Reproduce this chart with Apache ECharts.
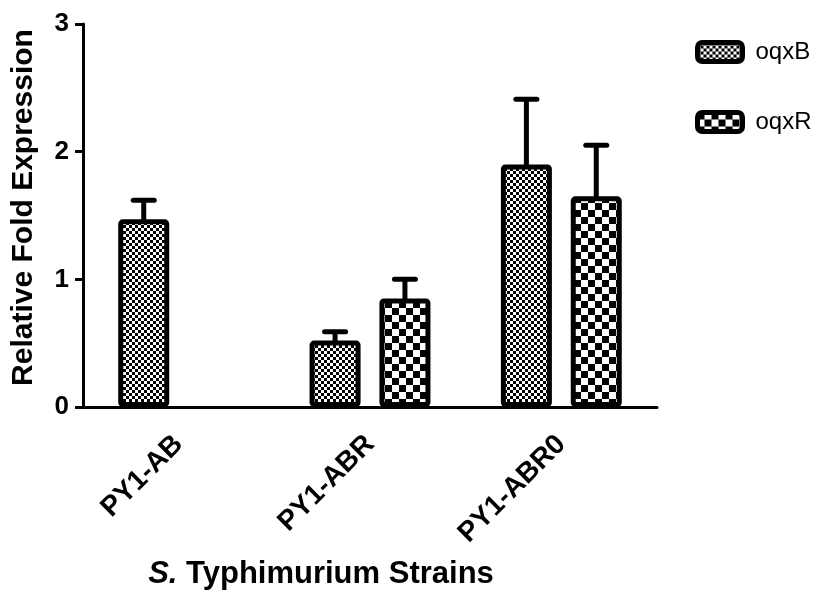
<!DOCTYPE html>
<html>
<head>
<meta charset="utf-8">
<script src="https://cdn.jsdelivr.net/npm/echarts@6/dist/echarts.min.js"></script>
<style>
  html, body { margin: 0; padding: 0; background: #fff; }
  #main { width: 828px; height: 590px; }
</style>
</head>
<body>
<div id="main"></div>
<script>
// data
var categories = ['PY1-AB', 'PY1-ABR', 'PY1-ABR0'];
var oqxB = [1.47, 0.52, 1.90];
var oqxBErr = [0.15, 0.07, 0.51];
var oqxR = [null, 0.85, 1.65];
var oqxRErr = [null, 0.15, 0.40];
var yTicks = [0, 1, 2, 3];

var FONT = "'Liberation Sans', Arial, sans-serif";
var BAR_W = 51;      // border is drawn inside this width
var BAR_GAP = 0.37;  // relative to bar width
var BORDER = 5;

// checkerboard fill like the Prism patterns
function checker(cell) {
    var c = document.createElement('canvas');
    c.width = c.height = cell * 2;
    var g = c.getContext('2d');
    g.fillStyle = '#fff';
    g.fillRect(0, 0, cell * 2, cell * 2);
    g.fillStyle = '#000';
    g.fillRect(0, 0, cell, cell);
    g.fillRect(cell, cell, cell, cell);
    return c;
}

function errData(vals, errs) {
    return vals.map(function (v, i) {
        if (v == null) return [i, '-', '-'];
        return [i, v, v + errs[i]];
    });
}

// upper-only error bar, shifted to sit over its bar
function errRender(side) {
    return function (params, api) {
        var v = api.value(1);
        if (isNaN(v)) return;
        var off = side * (BAR_W + BAR_W * BAR_GAP) / 2;
        var base = api.coord([api.value(0), v]);
        var top = api.coord([api.value(0), api.value(2)]);
        var x = base[0] + off;
        return {
            type: 'group',
            children: [
                { type: 'line', shape: { x1: x, y1: base[1] + 1, x2: x, y2: top[1] }, style: { stroke: '#000', lineWidth: 5 } },
                { type: 'line', shape: { x1: x - 10.5, y1: top[1], x2: x + 10.5, y2: top[1] }, style: { stroke: '#000', lineWidth: 5, lineCap: 'round' } }
            ]
        };
    };
}

var chart = echarts.init(document.getElementById('main'));
chart.setOption({
    animation: false,
    backgroundColor: '#fff',
    textStyle: { fontFamily: FONT, color: '#000' },
    grid: { left: 83, right: 171, top: 24, bottom: 183, containLabel: false, outerBoundsMode: 'none' },
    legend: {
        data: ['oqxB', 'oqxR'],
        orient: 'vertical',
        left: 690,
        top: 35,
        itemWidth: 45,
        itemHeight: 19,
        itemGap: 46,
        icon: 'roundRect',
        itemStyle: { borderColor: '#000', borderWidth: 5 },
        textStyle: { fontSize: 24, color: '#000', fontFamily: FONT, padding: [0, 0, 0, 8] }
    },
    xAxis: {
        type: 'category',
        data: categories,
        axisLine: { lineStyle: { color: '#000', width: 3 } },
        axisTick: { alignWithLabel: true, length: 10, lineStyle: { color: '#000', width: 3 } },
        axisLabel: { rotate: 45, fontSize: 28, fontWeight: 'bold', color: '#000', margin: 33, fontFamily: FONT },
        name: '{i|S.} Typhimurium Strains',
        nameLocation: 'middle',
        nameGap: 152,
        nameTextStyle: {
            fontSize: 31, fontWeight: 'bold', color: '#000', fontFamily: FONT,
            padding: [0, 98, 0, 0],
            rich: { i: { fontSize: 31, fontWeight: 'bold', fontStyle: 'italic', fontFamily: FONT, color: '#000' } }
        }
    },
    yAxis: {
        type: 'value',
        min: yTicks[0],
        max: yTicks[yTicks.length - 1],
        interval: 1,
        splitLine: { show: false },
        axisLine: { show: true, lineStyle: { color: '#000', width: 3 } },
        axisTick: { show: true, length: 8, lineStyle: { color: '#000', width: 3 } },
        axisLabel: { fontSize: 26, fontWeight: 'bold', color: '#000', margin: 14, fontFamily: FONT },
        name: 'Relative Fold Expression',
        nameLocation: 'middle',
        nameGap: 44,
        nameTextStyle: { fontSize: 30, fontWeight: 'bold', color: '#000', fontFamily: FONT, padding: [0, 0, 0, 16] }
    },
    series: [
        {
            name: 'oqxB',
            type: 'bar',
            data: oqxB,
            barWidth: BAR_W,
            barGap: (BAR_GAP * 100) + '%',
            itemStyle: { color: { image: checker(3), repeat: 'repeat' }, borderColor: '#000', borderWidth: BORDER, borderRadius: 2 }
        },
        {
            name: 'oqxR',
            type: 'bar',
            data: oqxR,
            barWidth: BAR_W,
            itemStyle: { color: { image: checker(7), repeat: 'repeat' }, borderColor: '#000', borderWidth: BORDER, borderRadius: 2 }
        },
        {
            name: 'oqxB SD',
            type: 'custom',
            renderItem: errRender(-1),
            data: errData(oqxB, oqxBErr),
            z: 3
        },
        {
            name: 'oqxR SD',
            type: 'custom',
            renderItem: errRender(1),
            data: errData(oqxR, oqxRErr),
            z: 3
        }
    ]
});
</script>
</body>
</html>
